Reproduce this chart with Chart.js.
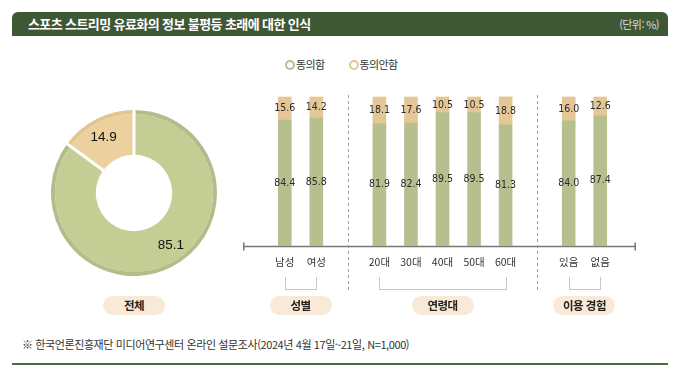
<!DOCTYPE html>
<html lang="ko">
<head>
<meta charset="utf-8">
<script src="https://cdn.jsdelivr.net/npm/chart.js@4.4.0/dist/chart.umd.min.js"></script>
<style>
  body { margin: 0; width: 680px; height: 376px; background: #fff; position: relative; overflow: hidden;
         font-family: "Noto Sans CJK KR", "Noto Sans", sans-serif; }
  .title { position: absolute; left: 12px; top: 12px; width: 656px; height: 24px; background: #3e5836;
           border-radius: 6px 6px 0 0; color: #fff; }
  .title .t { position: absolute; left: 16px; top: 2px; font-size: 13px; font-weight: bold; letter-spacing: -0.6px; line-height: 20px; }
  .title .u { position: absolute; right: 9px; top: 3px; font-size: 11px; color: #dcdcdc; letter-spacing: -0.6px; line-height: 18px; }
  .legend { position: absolute; top: 55px; left: 285px; font-size: 11px; color: #333; letter-spacing: -0.6px; }
  .legend span.item { display: inline-block; margin-right: 24px; line-height: 18px; }
  .legend i { display: inline-block; width: 6px; height: 6px; border: 2.5px solid; border-radius: 50%;
              vertical-align: -1px; margin-right: 1px; }
  #pie { position: absolute; left: 51px; top: 110px; }
  #bars { position: absolute; left: 230px; top: 80px; }
  .pill { position: absolute; top: 296px; height: 19px; line-height: 19px; width: 62px; margin-left: -31px;
          border-radius: 10px; background: #f8ead6; text-align: center; font-size: 11.5px; font-weight: bold;
          color: #222; letter-spacing: -0.5px; }
  .note { position: absolute; left: 22px; top: 336px; font-size: 11px; color: #333; letter-spacing: -0.4px; }
  .rule { position: absolute; left: 12px; top: 363px; width: 656px; height: 2px; background: #4d6843; }
</style>
</head>
<body>
<div class="title"><span class="t">스포츠 스트리밍 유료화의 정보 불평등 초래에 대한 인식</span><span class="u">(단위: %)</span></div>
<div class="legend" id="legend"></div>
<canvas id="pie" width="166" height="166"></canvas>
<canvas id="bars" width="440" height="220"></canvas>
<div id="pills"></div>
<div class="note">※ 한국언론진흥재단 미디어연구센터 온라인 설문조사(2024년 4월 17일~21일, N=1,000)</div>
<div class="rule"></div>
<script>
const seriesNames = ["동의함", "동의안함"];
const barColors = ["#b6c08f", "#e5c696"];

const totalValues = [85.1, 14.9];
const categories = ["남성", "여성", "", "20대", "30대", "40대", "50대", "60대", "", "있음", "없음"];
const agreeValues = [84.4, 85.8, null, 81.9, 82.4, 89.5, 89.5, 81.3, null, 84.0, 87.4];
const disagreeValues = [15.6, 14.2, null, 18.1, 17.6, 10.5, 10.5, 18.8, null, 16.0, 12.6];

const separators = [2, 8];
const groups = [
  { name: "전체", center: 134 },
  { name: "성별", from: 0, to: 1 },
  { name: "연령대", from: 3, to: 7 },
  { name: "이용 경험", from: 9, to: 10 },
];

// legend
const legend = document.getElementById("legend");
seriesNames.forEach((name, i) => {
  legend.innerHTML += '<span class="item"><i style="border-color:' + barColors[i] + '"></i>' + name + "</span>";
});

// doughnut for the total
const pieLabels = {
  id: "pieLabels",
  afterDatasetsDraw(chart) {
    const ctx = chart.ctx;
    const rim = chart.getDatasetMeta(0).data;
    const main = chart.getDatasetMeta(1).data;
    ctx.save();
    // white cuts between slices
    ctx.strokeStyle = "#fff";
    ctx.lineWidth = 3;
    main.forEach((arc) => {
      const a = arc.startAngle;
      ctx.beginPath();
      ctx.moveTo(arc.x + Math.cos(a) * (arc.innerRadius - 1), arc.y + Math.sin(a) * (arc.innerRadius - 1));
      ctx.lineTo(arc.x + Math.cos(a) * (rim[0].outerRadius + 1), arc.y + Math.sin(a) * (rim[0].outerRadius + 1));
      ctx.stroke();
    });
    ctx.fillStyle = "#111";
    ctx.font = "13.5px 'Liberation Sans', Arial, sans-serif";
    ctx.textAlign = "center";
    ctx.textBaseline = "middle";
    main.forEach((arc, i) => {
      const mid = (arc.startAngle + arc.endAngle) / 2 - (i === 0 ? 0.15 : 0.03);
      const r = (arc.innerRadius + rim[0].outerRadius) / 2 + 3;
      ctx.fillText(totalValues[i].toFixed(1), arc.x + Math.cos(mid) * r, arc.y + Math.sin(mid) * r);
    });
    ctx.restore();
  },
};

new Chart(document.getElementById("pie"), {
  type: "doughnut",
  data: {
    labels: seriesNames,
    datasets: [
      { data: totalValues, backgroundColor: ["#b3bd8a", "#e3c592"], borderWidth: 0, weight: 4 },
      { data: totalValues, backgroundColor: ["#c4ce94", "#ecd09d"], borderWidth: 0, weight: 41 },
    ],
  },
  options: {
    responsive: false,
    animation: false,
    cutout: "46%",
    plugins: { legend: { display: false }, tooltip: { enabled: false } },
  },
  plugins: [pieLabels],
});

// stacked bars
const barDecor = {
  id: "barDecor",
  afterDatasetsDraw(chart) {
    const { ctx, scales: { x, y } } = chart;
    const base = Math.round(y.getPixelForValue(0)) + 0.5;
    ctx.save();
    ctx.strokeStyle = "#777";
    ctx.lineWidth = 1.5;
    const x0 = x.getPixelForValue(0) - 41;
    const x1 = x.getPixelForValue(categories.length - 1) + 35;
    ctx.beginPath();
    ctx.moveTo(x0, base);
    ctx.lineTo(x1, base);
    ctx.moveTo(x0, base - 4);
    ctx.lineTo(x0, base + 4);
    ctx.moveTo(x1, base - 4);
    ctx.lineTo(x1, base + 4);
    ctx.stroke();

    ctx.lineWidth = 1;
    ctx.strokeStyle = "#9a9a9a";
    ctx.setLineDash([3, 3]);
    separators.forEach((i) => {
      const px = Math.round(x.getPixelForValue(i)) + 0.5;
      ctx.beginPath();
      ctx.moveTo(px, 15);
      ctx.lineTo(px, 210);
      ctx.stroke();
    });
    ctx.setLineDash([]);
    ctx.strokeStyle = "#c6c6c6";
    groups.forEach((g) => {
      if (g.from === undefined) return;
      const a = Math.round(x.getPixelForValue(g.from)) + 0.5;
      const b = Math.round(x.getPixelForValue(g.to)) + 0.5;
      ctx.beginPath();
      ctx.moveTo(a, 197);
      ctx.lineTo(a, 209.5);
      ctx.lineTo(b, 209.5);
      ctx.lineTo(b, 197);
      ctx.stroke();
    });

    ctx.fillStyle = "#2a2a2a";
    ctx.font = "10.5px 'Liberation Sans Narrow', 'DejaVu Sans Condensed', sans-serif";
    ctx.textAlign = "center";
    ctx.textBaseline = "middle";
    chart.data.datasets.forEach((ds, di) => {
      chart.getDatasetMeta(di).data.forEach((bar, i) => {
        if (ds.data[i] == null) return;
        ctx.fillText(ds.data[i].toFixed(1), bar.x, (bar.y + bar.base) / 2);
      });
    });
    ctx.restore();
  },
};

const barChart = new Chart(document.getElementById("bars"), {
  type: "bar",
  data: {
    labels: categories,
    datasets: [
      { label: seriesNames[0], data: agreeValues, backgroundColor: barColors[0], barThickness: 13, clip: false },
      { label: seriesNames[1], data: disagreeValues, backgroundColor: barColors[1], barThickness: 13, clip: false },
    ],
  },
  options: {
    responsive: false,
    animation: false,
    layout: { padding: { left: 39, right: 54, top: 17, bottom: 0 } },
    plugins: { legend: { display: false }, tooltip: { enabled: false } },
    scales: {
      x: {
        stacked: true,
        grid: { display: false, drawTicks: false },
        border: { display: false },
        ticks: { color: "#333", padding: 10, font: { family: "'Noto Sans CJK KR'", size: 10.5 } },
        afterFit: (s) => { s.height = 54.5; },
      },
      y: { stacked: true, display: false, min: 0, max: 100 },
    },
  },
  plugins: [barDecor],
});

// group name pills under the chart
const pills = document.getElementById("pills");
const xs = barChart.scales.x;
groups.forEach((g) => {
  let cx = g.center;
  if (g.from !== undefined) {
    cx = 230 + (xs.getPixelForValue(g.from) + xs.getPixelForValue(g.to)) / 2;
  }
  pills.innerHTML += '<div class="pill" style="left:' + cx + 'px">' + g.name + "</div>";
});
</script>
</body>
</html>
